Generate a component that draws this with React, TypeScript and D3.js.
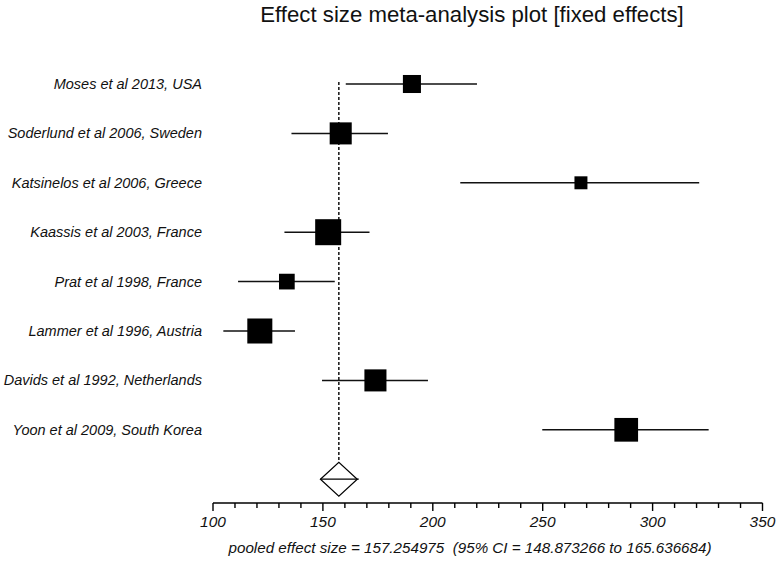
import React from "react";
import * as d3 from "d3";

const studies = [
  "Moses et al 2013, USA",
  "Soderlund et al 2006, Sweden",
  "Katsinelos et al 2006, Greece",
  "Kaassis et al 2003, France",
  "Prat et al 1998, France",
  "Lammer et al 1996, Austria",
  "Davids et al 1992, Netherlands",
  "Yoon et al 2009, South Korea",
];
const effects = [190.5, 158.1, 267.4, 152.4, 133.6, 121.3, 173.9, 288.0];
const ciLow = [160.4, 135.7, 212.5, 132.5, 111.4, 104.7, 149.6, 249.8];
const ciHigh = [220.1, 179.6, 321.2, 171.2, 155.4, 137.3, 197.8, 325.5];
const weights = [9.1, 13.6, 4.7, 18.9, 6.9, 17.5, 13.6, 15.7];
const pooled = 157.254975;
const pooledLow = 148.873266;
const pooledHigh = 165.636684;
const majorTicks = [100, 150, 200, 250, 300, 350];
const minorStep = 10;

const W = 777;
const H = 562;
const FONT = "'Liberation Sans', Arial, Helvetica, sans-serif";

export default function App() {
  const x = d3.scaleLinear().domain([100, 350]).range([213, 762.5]);
  const rows = [...studies, "__pooled__"];
  const y = d3.scalePoint<string>().domain(rows).range([84, 479.2]);
  const side = d3.scaleSqrt().domain([0, d3.max(weights) as number]).range([0, 26]);
  const minor = d3.range(100, 350 + 0.001, minorStep);
  const axisY = 503;
  const py = y("__pooled__") as number;
  const dh = 17;

  return (
    <svg width={W} height={H} style={{ position: "absolute", left: 0, top: 0, background: "#fff" }}>
      <rect x={0} y={0} width={W} height={H} fill="#fff" />
      <text x={472} y={22} textAnchor="middle" fontFamily={FONT} fontSize={22.2} fill="#111">
        Effect size meta-analysis plot [fixed effects]
      </text>

      {/* reference dashed line */}
      <line
        x1={x(pooled)}
        x2={x(pooled)}
        y1={(y(studies[0]) as number) - 2}
        y2={py - dh}
        stroke="#000"
        strokeWidth={1.4}
        strokeDasharray="3,2"
      />

      {studies.map((s, i) => {
        const cy = y(s) as number;
        const sz = side(weights[i]);
        return (
          <g key={s}>
            <text
              x={202}
              y={cy + 5}
              textAnchor="end"
              fontFamily={FONT}
              fontStyle="italic"
              fontSize={14.5}
              fill="#111"
            >
              {s}
            </text>
            <line x1={x(ciLow[i])} x2={x(ciHigh[i])} y1={cy} y2={cy} stroke="#111" strokeWidth={1.5} />
            <rect x={x(effects[i]) - sz / 2} y={cy - sz / 2} width={sz} height={sz} fill="#000" />
          </g>
        );
      })}

      {/* pooled diamond */}
      <path
        d={`M${x(pooledLow)},${py} L${x(pooled)},${py - dh} L${x(pooledHigh)},${py} L${x(pooled)},${py + dh} Z`}
        fill="none"
        stroke="#000"
        strokeWidth={1.2}
      />
      <line x1={x(pooledLow)} x2={x(pooledHigh) + 1.5} y1={py} y2={py} stroke="#000" strokeWidth={1.2} />

      {/* axis */}
      <line x1={x(100)} x2={x(350)} y1={axisY} y2={axisY} stroke="#000" strokeWidth={1.4} />
      {minor.map((t) => {
        const isMajor = majorTicks.includes(Math.round(t));
        return (
          <line
            key={t}
            x1={x(t)}
            x2={x(t)}
            y1={axisY}
            y2={axisY + (isMajor ? 8 : 5)}
            stroke="#000"
            strokeWidth={1.4}
          />
        );
      })}
      {majorTicks.map((t) => (
        <text
          key={t}
          x={x(t)}
          y={527}
          textAnchor="middle"
          fontFamily={FONT}
          fontStyle="italic"
          fontSize={15.5}
          fill="#111"
        >
          {t}
        </text>
      ))}
      <text
        x={470}
        y={553}
        textAnchor="middle"
        fontFamily={FONT}
        fontStyle="italic"
        fontSize={15.2}
        fill="#111"
        style={{ whiteSpace: "pre" }}
      >
        {`pooled effect size = ${pooled.toFixed(6)}  (95% CI = ${pooledLow.toFixed(6)} to ${pooledHigh.toFixed(6)})`}
      </text>
    </svg>
  );
}
